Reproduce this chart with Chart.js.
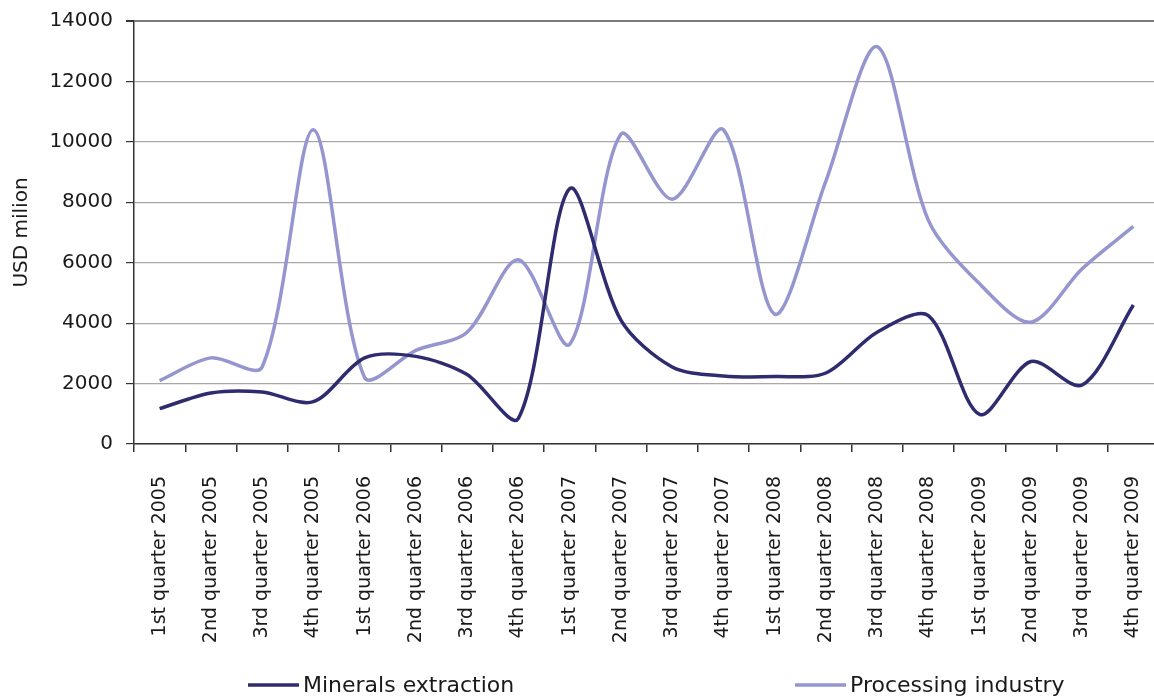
<!DOCTYPE html>
<html>
<head>
<meta charset="utf-8">
<script src="https://cdn.jsdelivr.net/npm/chart.js@4.4.1/dist/chart.umd.min.js"></script>
<style>
  html, body { margin: 0; padding: 0; background: #fff; overflow: hidden; }
  #wrap { width: 1159px; height: 700px; position: relative; }
</style>
</head>
<body>
<div id="wrap"><canvas id="chart"></canvas></div>
<script>
// ── Data ──
const quarters = [
  '1st quarter 2005', '2nd quarter 2005', '3rd quarter 2005', '4th quarter 2005',
  '1st quarter 2006', '2nd quarter 2006', '3rd quarter 2006', '4th quarter 2006',
  '1st quarter 2007', '2nd quarter 2007', '3rd quarter 2007', '4th quarter 2007',
  '1st quarter 2008', '2nd quarter 2008', '3rd quarter 2008', '4th quarter 2008',
  '1st quarter 2009', '2nd quarter 2009', '3rd quarter 2009', '4th quarter 2009'
];
const minerals   = [1170, 1690, 1720, 1400, 2850, 2900, 2300, 850, 8450, 4100,
                    2550, 2250, 2230, 2350, 3700, 4250, 980, 2730, 1950, 4600];
const processing = [2100, 2850, 2550, 10400, 2200, 3100, 3700, 6100, 3300, 10250,
                    8100, 10400, 4300, 8700, 13150, 7400, 5300, 4030, 5800, 7200];
const yTicks = [0, 2000, 4000, 6000, 8000, 10000, 12000, 14000];

const FONT = '"DejaVu Sans", sans-serif';
const TEXT = '#1a1a1a';

// ── Legend drawn under the axis labels ──
const bottomLegend = {
  id: 'bottomLegend',
  afterDraw(chart){
    const ctx = chart.ctx;
    const starts = [248, 795];
    const y = 685;
    ctx.save();
    ctx.font = '22px ' + FONT;
    ctx.textBaseline = 'middle';
    chart.data.datasets.forEach((ds, i) => {
      const x = starts[i];
      ctx.strokeStyle = ds.borderColor;
      ctx.lineWidth = 3.5;
      ctx.beginPath();
      ctx.moveTo(x, y);
      ctx.lineTo(x + 51, y);
      ctx.stroke();
      ctx.fillStyle = TEXT;
      ctx.fillText(ds.label, x + 55, y + 1);
    });
    ctx.restore();
  }
};

new Chart(document.getElementById('chart'), {
  type: 'line',
  data: {
    labels: quarters,
    datasets: [
      {
        label: 'Minerals extraction',
        data: minerals,
        borderColor: '#2e2b6f',
        borderWidth: 3.5,
        pointRadius: 0,
        tension: 0.3,
        fill: false
      },
      {
        label: 'Processing industry',
        data: processing,
        borderColor: '#9595cf',
        borderWidth: 3.5,
        pointRadius: 0,
        tension: 0.3,
        fill: false
      }
    ]
  },
  options: {
    responsive: true,
    maintainAspectRatio: false,
    animation: false,
    layout: { padding: { top: 21, left: 0, right: 0, bottom: 0 } },
    plugins: {
      legend: { display: false },
      tooltip: { enabled: false }
    },
    scales: {
      x: {
        type: 'category',
        offset: true,
        grid: {
          offset: true,
          drawOnChartArea: false,
          drawTicks: true,
          tickLength: 8,
          color: '#333',
          lineWidth: 1.5
        },
        border: { color: '#333', width: 1.5 },
        ticks: {
          autoSkip: false,
          maxRotation: 90,
          minRotation: 90,
          padding: 24,
          color: TEXT,
          font: { family: FONT, size: 19 }
        },
        afterFit: s => {
          s.height = 256;
          s.paddingLeft = 0;
          s.paddingRight = 0;
        }
      },
      y: {
        min: 0,
        max: 14000,
        afterBuildTicks: s => { s.ticks = yTicks.map(v => ({ value: v })); },
        grid: {
          color: ctx => ctx.tick && ctx.tick.value === 14000 ? '#7a7a7a' : '#a8a8a8',
          lineWidth: ctx => ctx.tick && ctx.tick.value === 14000 ? 2 : 1.2,
          tickColor: '#333',
          tickLength: 8
        },
        border: { color: '#333', width: 1.5 },
        ticks: {
          padding: 13,
          color: TEXT,
          font: { family: FONT, size: 20 },
          callback: v => String(v)
        },
        title: {
          display: true,
          text: 'USD milion',
          color: TEXT,
          font: { family: FONT, size: 20 },
          padding: { top: 10, bottom: 0 }
        },
        afterFit: s => {
          s.width = 134;
          s.paddingTop = 0;
          s.paddingBottom = 0;
        }
      }
    }
  },
  plugins: [bottomLegend]
});
</script>
</body>
</html>
